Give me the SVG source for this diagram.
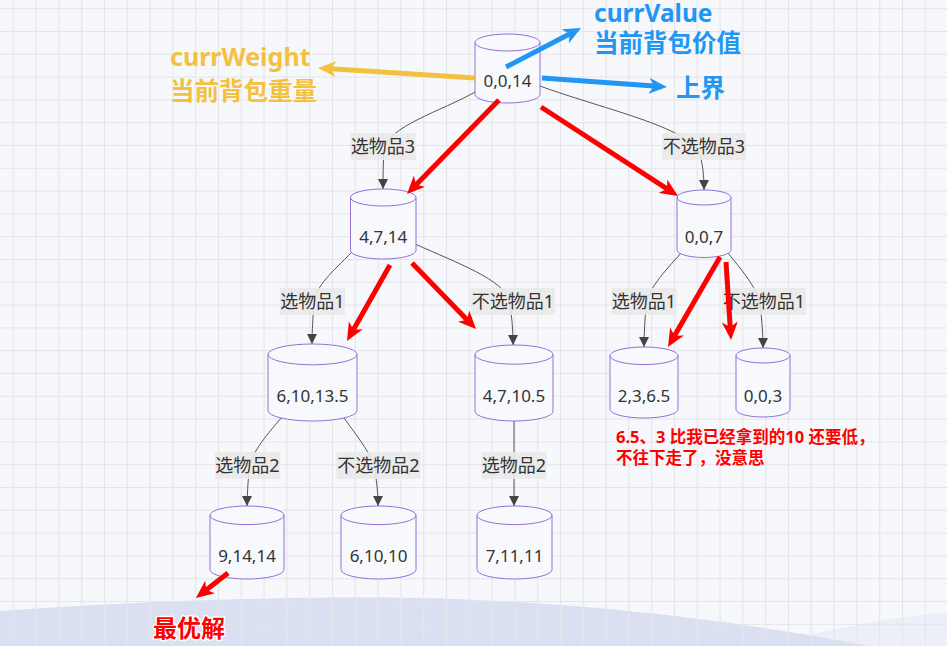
<svg xmlns="http://www.w3.org/2000/svg" width="947" height="646" viewBox="0 0 947 646">
<style>
.bg{fill:#f7f8fb}
.node path{fill:#f8f9fc;stroke:#9370db;stroke-width:1}
.node text{font-family:"Noto Sans","Noto Sans CJK SC",sans-serif;font-size:17px;fill:#333;text-anchor:middle}
.edge{fill:none;stroke:#555;stroke-width:1;marker-end:url(#ah)}
.lbl rect{fill:#e9e9e9;opacity:.9}
.lbl text{font-family:"Noto Sans","Noto Sans CJK SC",sans-serif;font-size:18px;fill:#333;text-anchor:middle}
.red{fill:none;stroke:#ff0000;stroke-width:5;marker-end:url(#rh)}
.blue{fill:none;stroke:#2196f3;stroke-width:5;marker-end:url(#bh)}
.yel{fill:none;stroke:#f4c03f;stroke-width:5;marker-end:url(#yh)}
.ann{font-family:"Noto Sans","Noto Sans CJK SC",sans-serif;font-weight:700}
</style>
<defs>
<pattern id="grid" x="1.9" y="-2.7" width="22.8" height="22.8" patternUnits="userSpaceOnUse"><path d="M11.4,0V22.8M0,11.4H22.8" stroke="#e4e5e9" stroke-width="1.2" fill="none"/></pattern>
<marker id="ah" viewBox="0 0 10 10" refX="10" refY="5" markerWidth="10" markerHeight="10" markerUnits="userSpaceOnUse" orient="auto"><path d="M0,0L10,5L0,10z" fill="#444"/></marker>
<marker id="rh" viewBox="0 0 18 16" refX="5" refY="8" markerWidth="18" markerHeight="16" markerUnits="userSpaceOnUse" orient="auto"><path d="M0,0L18,8L0,16L5,8z" fill="#ff0000"/></marker>
<marker id="bh" viewBox="0 0 18 16" refX="5" refY="8" markerWidth="18" markerHeight="16" markerUnits="userSpaceOnUse" orient="auto"><path d="M0,0L18,8L0,16L5,8z" fill="#2196f3"/></marker>
<marker id="yh" viewBox="0 0 18 16" refX="5" refY="8" markerWidth="18" markerHeight="16" markerUnits="userSpaceOnUse" orient="auto"><path d="M0,0L18,8L0,16L5,8z" fill="#f4c03f"/></marker>
</defs>
<rect class="bg" x="0" y="0" width="947" height="646"/>
<path d="M766,646C820,630 890,618 947,612L947,646Z" fill="#eceff7"/>
<path d="M0,611C150,600 300,596 420,598C600,602 760,625 870,646L0,646Z" fill="#dae0f2"/>
<rect x="0" y="0" width="947" height="646" fill="url(#grid)"/>

<g id="connectors">
<path class="edge" d="M477,91C440,112 388,126 384,150C383,166 383,176 383,189"/>
<path class="edge" d="M540,86C600,108 680,125 698,150C703,162 704,176 704,190"/>
<path class="edge" d="M352,252C332,272 316,286 314,302C313,318 312,330 312,344"/>
<path class="edge" d="M415,244C460,264 503,280 509,300C512,315 513,330 513,345"/>
<path class="edge" d="M682,252C662,274 648,290 646,305C645,320 644,334 644,347"/>
<path class="edge" d="M728,253C745,274 758,290 760,305C762,320 763,335 763,348"/>
<path class="edge" d="M282,417C263,439 251,454 249,470C248,484 247,496 247,506"/>
<path class="edge" d="M344,418C360,440 372,455 375,470C377,485 378,495 378,506"/>
<path class="edge" d="M514,421L514,506"/>
</g>

<g id="labels">
<g class="lbl"><rect x="350.5" y="133" width="65" height="27"/><text x="383" y="153">选物品3</text></g>
<g class="lbl"><rect x="662" y="133" width="84" height="27"/><text x="704" y="153">不选物品3</text></g>
<g class="lbl"><rect x="280" y="288" width="65" height="27"/><text x="312.5" y="308">选物品1</text></g>
<g class="lbl"><rect x="471" y="288" width="84" height="27"/><text x="513" y="308">不选物品1</text></g>
<g class="lbl"><rect x="611.5" y="288" width="65" height="27"/><text x="644" y="308">选物品1</text></g>
<g class="lbl"><rect x="722" y="288" width="84" height="27"/><text x="764" y="308">不选物品1</text></g>
<g class="lbl"><rect x="215" y="452" width="65" height="27"/><text x="247.5" y="472">选物品2</text></g>
<g class="lbl"><rect x="336.5" y="452" width="84" height="27"/><text x="378.5" y="472">不选物品2</text></g>
<g class="lbl"><rect x="481.5" y="452" width="65" height="27"/><text x="514" y="472">选物品2</text></g>
</g>

<g id="n0" class="node"><path d="M475,42.5a32.5,8.5 0 0 0 65,0a32.5,8.5 0 0 0 -65,0l0,52a32.5,8.5 0 0 0 65,0l0,-52"/><text x="507.5" y="87">0,0,14</text></g>
<g id="n1" class="node"><path d="M350.5,197.5a32.75,8.5 0 0 0 65.5,0a32.75,8.5 0 0 0 -65.5,0l0,53a32.75,8.5 0 0 0 65.5,0l0,-53"/><text x="383.25" y="243">4,7,14</text></g>
<g id="n2" class="node"><path d="M677,197.5a27,7.5 0 0 0 54,0a27,7.5 0 0 0 -54,0l0,52.5a27,7.5 0 0 0 54,0l0,-52.5"/><text x="704" y="243">0,0,7</text></g>
<g id="n3" class="node"><path d="M268,354.4a44.5,10.4 0 0 0 89,0a44.5,10.4 0 0 0 -89,0l0,56.2a44.5,10.4 0 0 0 89,0l0,-56.2"/><text x="312.5" y="402">6,10,13.5</text></g>
<g id="n4" class="node"><path d="M475,354.6a39,9.6 0 0 0 78,0a39,9.6 0 0 0 -78,0l0,56.8a39,9.6 0 0 0 78,0l0,-56.8"/><text x="514" y="402">4,7,10.5</text></g>
<g id="n5" class="node"><path d="M610,355.8a34,8.8 0 0 0 68,0a34,8.8 0 0 0 -68,0l0,53.4a34,8.8 0 0 0 68,0l0,-53.4"/><text x="644" y="402">2,3,6.5</text></g>
<g id="n6" class="node"><path d="M736,355.5a27,7.5 0 0 0 54,0a27,7.5 0 0 0 -54,0l0,54a27,7.5 0 0 0 54,0l0,-54"/><text x="763" y="402">0,0,3</text></g>
<g id="n7" class="node"><path d="M210,515.3a37,9.3 0 0 0 74,0a37,9.3 0 0 0 -74,0l0,54.4a37,9.3 0 0 0 74,0l0,-54.4"/><text x="247" y="561.5">9,14,14</text></g>
<g id="n8" class="node"><path d="M341,515.3a37.5,9.3 0 0 0 75,0a37.5,9.3 0 0 0 -75,0l0,54.4a37.5,9.3 0 0 0 75,0l0,-54.4"/><text x="378.5" y="561.5">6,10,10</text></g>
<g id="n9" class="node"><path d="M477,515.3a37.5,9.3 0 0 0 75,0a37.5,9.3 0 0 0 -75,0l0,54.4a37.5,9.3 0 0 0 75,0l0,-54.4"/><text x="514.5" y="561.5">7,11,11</text></g>

<g id="annotation-arrows">
<path class="red" d="M499,100L416.1,184.7"/>
<path class="red" d="M541,107L667.1,188.9"/>
<path class="red" d="M390,265L353.4,329.7"/>
<path class="red" d="M412,263L467,319.7"/>
<path class="red" d="M720,257L674.5,335.7"/>
<path class="red" d="M726,262L730.2,327"/>
<path class="red" d="M228,573L206.2,590"/>
<path class="blue" d="M506,67L569.5,34"/>
<path class="blue" d="M542,78L654,86.1"/>
<path class="yel" d="M475,78L331,68.8"/>
</g>

<g id="annotations" class="ann">
<text x="170" y="66" font-size="25" fill="#f4c03f">currWeight</text>
<text x="170" y="100" font-size="24.5" fill="#f4c03f">当前背包重量</text>
<text x="594" y="22" font-size="24.5" fill="#2196f3">currValue</text>
<text x="594" y="52" font-size="24.5" fill="#2196f3">当前背包价值</text>
<text x="676" y="97" font-size="24.5" fill="#2196f3">上界</text>
<text x="616" y="443" font-size="16.5" fill="#ff0000">6.5、3 比我已经拿到的10 还要低，</text>
<text x="616" y="464" font-size="16.5" fill="#ff0000">不往下走了，没意思</text>
<text x="153" y="637" font-size="24" fill="#ff0000" stroke="#fff" stroke-width="3" paint-order="stroke" stroke-linejoin="round">最优解</text>
</g>
</svg>
